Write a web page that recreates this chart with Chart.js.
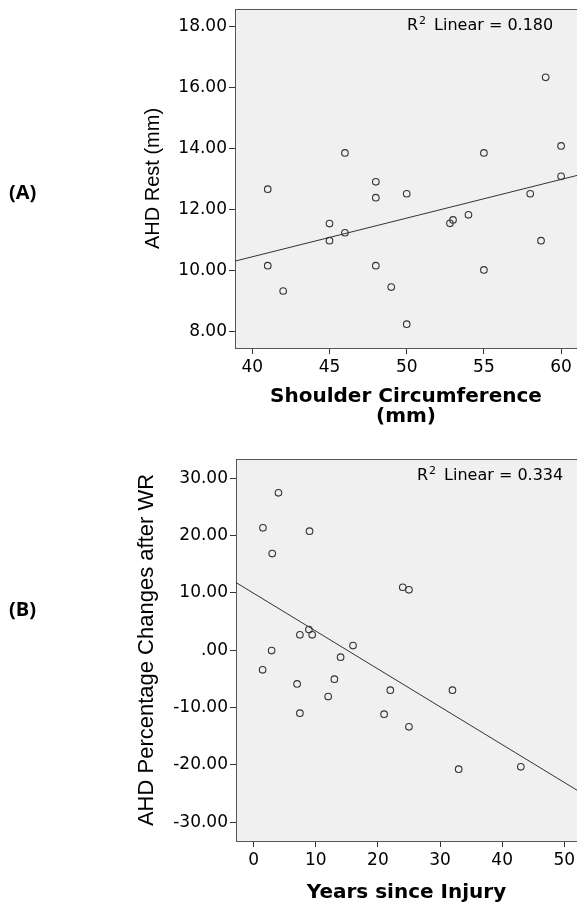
<!DOCTYPE html>
<html>
<head>
<meta charset="utf-8">
<script src="https://cdn.jsdelivr.net/npm/chart.js@4/dist/chart.umd.min.js"></script>
<style>
  body { margin: 0; background: #fff; }
  #wrap { position: relative; width: 577px; height: 903px; overflow: hidden; }
  canvas { position: absolute; left: 0; }
  #chartA { top: 0; }
  #chartB { top: 420px; }
  .panel { position: absolute; left: 9px; font: bold 20px "Open Sans", Lato, sans-serif; line-height: 24px; color: #000; }
</style>
</head>
<body>
<div id="wrap">
  <canvas id="chartA" width="577" height="427"></canvas>
  <canvas id="chartB" width="577" height="483"></canvas>
  <div class="panel" style="top:180px">(A)</div>
  <div class="panel" style="top:597px">(B)</div>
</div>
<script>
// (A) shoulder circumference vs AHD at rest
const shoulderCirc = [41, 41, 42, 45, 45, 46, 46, 48, 48, 48, 49, 50, 50, 52.8, 53, 54, 55, 55, 58, 58.7, 59, 60, 60];
const ahdRest = [12.66, 10.15, 9.32, 11.53, 10.97, 13.85, 11.23, 12.9, 12.38, 10.15, 9.45, 12.51, 8.23, 11.54, 11.65, 11.82, 13.85, 10.01, 12.51, 10.97, 16.33, 14.08, 13.08];
const fitAX = [38.88, 61.03];
const fitAY = [10.30, 13.11];
const xTicksA = [40, 45, 50, 55, 60];
const yTicksA = [8, 10, 12, 14, 16, 18];
const yTickLabelsA = ["8.00", "10.00", "12.00", "14.00", "16.00", "18.00"];
const r2A = "0.180";

// (B) years since injury vs AHD % change after WR
const yearsSinceInjury = [4, 1.5, 9, 3, 24, 25, 8.9, 7.45, 9.43, 16, 2.9, 14, 1.45, 7, 13, 12, 22, 32, 7.45, 21, 25, 33, 43];
const ahdChange = [27.46, 21.35, 20.77, 16.87, 10.99, 10.53, 3.6, 2.68, 2.68, 0.81, -0.06, -1.22, -3.43, -5.88, -5.06, -8.09, -6.98, -6.98, -10.99, -11.17, -13.38, -20.77, -20.36];
const fitBX = [-2.83, 52.04];
const fitBY = [11.81, -24.43];
const xTicksB = [0, 10, 20, 30, 40, 50];
const yTicksB = [-30, -20, -10, 0, 10, 20, 30];
const yTickLabelsB = ["-30.00", "-20.00", "-10.00", ".00", "10.00", "20.00", "30.00"];
const r2B = "0.334";

const plotBox = {
  id: "plotBox",
  beforeDatasetsDraw(chart) {
    const { ctx, chartArea: a } = chart;
    ctx.save();
    ctx.fillStyle = "#f0f0f0";
    ctx.fillRect(a.left, a.top, a.right - a.left, a.bottom - a.top);
    ctx.strokeStyle = "#555";
    ctx.lineWidth = 1;
    ctx.strokeRect(a.left + 0.5, a.top + 0.5, a.right - a.left + 2, a.bottom - a.top);
    ctx.restore();
  },
  afterDraw(chart, args, opts) {
    const { ctx, chartArea: a } = chart;
    ctx.save();
    ctx.fillStyle = "#000";
    ctx.textBaseline = "middle";
    let x = a.left + opts.dx;
    const y = a.top + 17;
    ctx.font = "16px 'DejaVu Sans'";
    ctx.fillText("R", x, y);
    x += ctx.measureText("R").width + 1;
    ctx.font = "11px 'DejaVu Sans'";
    ctx.fillText("2", x, y - 5);
    x += ctx.measureText("2").width + 8;
    ctx.font = "16px 'DejaVu Sans'";
    ctx.fillText("Linear = " + opts.r2, x, y);
    ctx.restore();
  },
};

function makeChart(id, o) {
  const pts = o.xs.map((x, i) => ({ x: x, y: o.ys[i] }));
  const fit = o.fx.map((x, i) => ({ x: x, y: o.fy[i] }));
  return new Chart(document.getElementById(id), {
    type: "scatter",
    data: {
      datasets: [
        {
          data: pts,
          pointRadius: 3.3,
          pointBorderWidth: 1.1,
          pointBorderColor: "#333",
          pointBackgroundColor: "rgba(0,0,0,0)",
        },
        {
          data: fit,
          showLine: true,
          pointRadius: 0,
          borderColor: "#333",
          borderWidth: 1,
        },
      ],
    },
    options: {
      responsive: false,
      animation: false,
      devicePixelRatio: 1,
      layout: { autoPadding: false, padding: { left: o.padLeft, top: o.padTop, right: 0, bottom: 0 } },
      plugins: {
        legend: { display: false },
        tooltip: { enabled: false },
        plotBox: { dx: o.r2dx, r2: o.r2 },
      },
      scales: {
        x: {
          type: "linear",
          min: o.xmin,
          max: o.xmax,
          afterBuildTicks: (s) => { s.ticks = o.xt.map((v) => ({ value: v })); },
          afterFit: (s) => { s.height = o.xh; s.paddingLeft = 0; s.paddingRight = 0; },
          border: { display: false },
          grid: { drawOnChartArea: false, drawTicks: true, tickLength: 6, color: "#333" },
          ticks: { padding: 3, color: "#000", font: { family: "DejaVu Sans", size: 17 }, maxRotation: 0 },
          title: {
            display: true,
            text: o.xTitle,
            color: "#000",
            padding: 0,
            font: { family: "DejaVu Sans", size: 20, weight: "bold", lineHeight: 1.0 },
          },
        },
        y: {
          type: "linear",
          min: o.ymin,
          max: o.ymax,
          afterBuildTicks: (s) => { s.ticks = o.yt.map((v) => ({ value: v })); },
          afterFit: (s) => { s.width = o.yw; s.paddingTop = 0; s.paddingBottom = 0; },
          border: { display: false },
          grid: { drawOnChartArea: false, drawTicks: true, tickLength: 6, color: "#333" },
          ticks: {
            padding: 2,
            color: "#000",
            font: { family: "DejaVu Sans", size: 17 },
            callback: (v) => o.ytl[o.yt.indexOf(v)],
          },
          title: {
            display: true,
            text: o.yTitle,
            color: "#000",
            padding: 0,
            font: { family: "Liberation Sans", size: o.yTitleSize, lineHeight: 1.2 },
          },
        },
      },
    },
    plugins: [plotBox],
  });
}

makeChart("chartA", {
  xs: shoulderCirc, ys: ahdRest, fx: fitAX, fy: fitAY,
  xmin: 38.88, xmax: 61.03, ymin: 7.45, ymax: 18.57,
  xt: xTicksA, yt: yTicksA, ytl: yTickLabelsA,
  padLeft: 141, padTop: 9, yw: 94, xh: 79,
  xTitle: ["Shoulder Circumference", "(mm)"], yTitle: "AHD Rest (mm)", yTitleSize: 20,
  r2: r2A, r2dx: 172,
});

makeChart("chartB", {
  xs: yearsSinceInjury, ys: ahdChange, fx: fitBX, fy: fitBY,
  xmin: -2.83, xmax: 52.04, ymin: -33.3, ymax: 33.37,
  xt: xTicksB, yt: yTicksB, ytl: yTickLabelsB,
  padLeft: 134, padTop: 39, yw: 102, xh: 62,
  xTitle: "Years since Injury", yTitle: "AHD Percentage Changes after WR", yTitleSize: 22,
  r2: r2B, r2dx: 181,
});
</script>
</body>
</html>
